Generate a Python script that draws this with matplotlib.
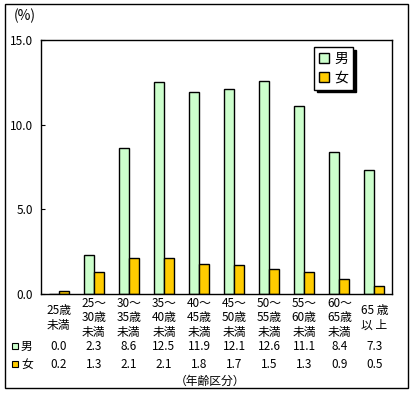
import numpy as np
import matplotlib.pyplot as plt
from matplotlib.patches import Rectangle
from matplotlib.transforms import blended_transform_factory

plt.rcParams['font.family'] = ['Noto Sans CJK JP', 'DejaVu Sans']

categories = ['25歳\n未満', '25～\n30歳\n未満', '30～\n35歳\n未満', '35～\n40歳\n未満',
              '40～\n45歳\n未満', '45～\n50歳\n未満', '50～\n55歳\n未満', '55～\n60歳\n未満',
              '60～\n65歳\n未満', '65 歳\n以 上']
male = [0.0, 2.3, 8.6, 12.5, 11.9, 12.1, 12.6, 11.1, 8.4, 7.3]
female = [0.2, 1.3, 2.1, 2.1, 1.8, 1.7, 1.5, 1.3, 0.9, 0.5]
yticks = [0.0, 5.0, 10.0, 15.0]

c_male = '#ccffcc'
c_female = '#ffcc00'

W, H = 412, 393
fig = plt.figure(figsize=(W / 100, H / 100), dpi=100)
ax = fig.add_axes([41 / W, 1 - 294 / H, 351 / W, 254 / H])

x = np.arange(len(categories))
bw = 0.285
ax.bar(x - bw / 2, male, bw, color=c_male, edgecolor='black', linewidth=1, label='男')
ax.bar(x + bw / 2, female, bw, color=c_female, edgecolor='black', linewidth=1, label='女')

ax.set_xlim(-0.5, len(categories) - 0.5)
ax.set_ylim(0, 15)
ax.set_yticks(yticks)
ax.set_yticklabels(['%.1f' % v for v in yticks], fontsize=8.5)
ax.tick_params(axis='y', direction='in', length=3, pad=6)
ax.set_xticks([])
for s in ax.spines.values():
    s.set_linewidth(1)

fig.text(14 / W, 1 - 16 / H, '(%)', fontsize=10, va='center', ha='left')

leg = ax.legend(loc='upper left', bbox_to_anchor=(314 / W, 1 - 47 / H),
                bbox_transform=fig.transFigure, fontsize=10, frameon=True,
                fancybox=False, edgecolor='black', framealpha=1,
                shadow={'color': 'black', 'alpha': 1},
                handlelength=0.7, handleheight=0.7, handletextpad=0.4,
                borderpad=0.35, labelspacing=0.35, borderaxespad=0)
leg.get_frame().set_linewidth(1)

# table below the axes
tr = blended_transform_factory(ax.transData, fig.transFigure)
for i, lab in enumerate(categories):
    fig.text(i, 1 - 318 / H, lab, transform=tr, ha='center', va='center',
             fontsize=8.5, linespacing=1.12)
    fig.text(i, 1 - 346 / H, '%.1f' % male[i], transform=tr, ha='center',
             va='center', fontsize=8.5)
    fig.text(i, 1 - 364 / H, '%.1f' % female[i], transform=tr, ha='center',
             va='center', fontsize=8.5)

for yy, col, lab in [(346, c_male, '男'), (364, c_female, '女')]:
    fig.patches.append(Rectangle((12 / W, 1 - (yy + 3) / H), 6 / W, 6 / H,
                                 transform=fig.transFigure, facecolor=col,
                                 edgecolor='black', linewidth=0.8))
    fig.text(21 / W, 1 - yy / H, lab, fontsize=8.5, va='center', ha='left')

fig.text(210 / W, 1 - 381 / H, '（年齢区分）', fontsize=8.5, ha='center', va='center')

fig.patches.append(Rectangle((4.5 / W, 1 - 388 / H), 403 / W, 384 / H,
                             transform=fig.transFigure, fill=False,
                             edgecolor='black', linewidth=1))

fig.savefig('out.png', dpi=100)
